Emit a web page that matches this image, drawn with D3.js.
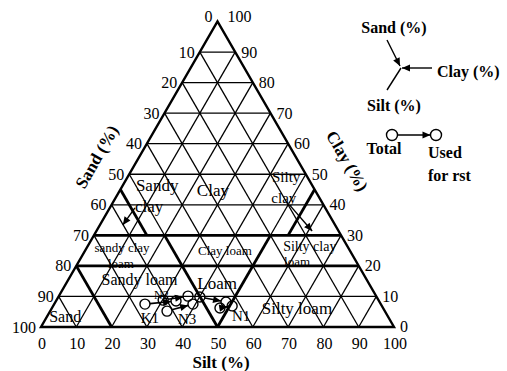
<!DOCTYPE html>
<html>
<head>
<meta charset="utf-8">
<script src="https://cdn.jsdelivr.net/npm/d3@7"></script>
<style>
  body { margin: 0; background: #fff; }
  text { font-family: "Liberation Serif", "Times New Roman", serif; fill: #000; }
</style>
</head>
<body>
<svg id="chart" width="507" height="371"></svg>
<script>
// ---- data ----
const tickValues = [0, 10, 20, 30, 40, 50, 60, 70, 80, 90, 100];
const gridSteps = [10, 20, 30, 40, 50, 60, 70, 80, 90];

// texture class boundaries, each [silt1, clay1, silt2, clay2] in %
const classBoundaries = [
  [0, 20, 80, 20],
  [0, 30, 70, 30],
  [0, 20, 20, 0],
  [20, 30, 50, 0],
  [50, 30, 50, 0],
  [0, 45, 15, 30],
  [55, 45, 55, 30]
];

// class names and where they sit (silt %, clay %)
const classNames = ["Sandy", "clay", "Clay", "Silty", "clay", "sandy clay", "loam",
                    "Clay loam", "Silty clay", "loam", "Sandy loam", "Loam", "Silty loam", "Sand"];
const classSilt = [9.8, 11.0, 26.3, 44.9, 47.7, 10.0, 12.2, 39.5, 62.9, 61.9, 20.1, 42.7, 69.4, 5.2];
const classClay = [46.2, 39.3, 44.8, 49.1, 42.2, 25.9, 20.9, 25.2, 26.5, 21.3, 15.6, 14.4, 6.2, 3.3];
const classSize = [17, 17, 17, 15, 15, 13, 13, 13, 14, 13, 16, 17, 17, 16];

// pointers from the small-triangle class names into their regions [silt1, clay1, silt2, clay2]
const classPointers = [
  [7.1, 39.0, 6.5, 33.4],
  [50.5, 39.9, 61.1, 31.4]
];

// samples: total fraction -> fraction used (silt %, clay %)
const sampleIds    = ["K1", "N2", "N3", "N1", "N1b"];
const totalSilt    = [25.7, 30.2, 33.1, 40.1, 47.6];
const totalClay    = [7.5, 8.8, 5.2, 9.8, 6.2];
const usedSilt     = [34.0, 36.6, 39.3, 48.3, 50.7];
const usedClay     = [8.5, 10.1, 7.5, 8.2, 6.9];

const sampleLabels = ["K1", "N2", "N3", "N1"];
const labelSilt    = [29.4, 28.8, 40.1, 54.9];
const labelClay    = [2.9, 10.6, 2.6, 3.6];
const labelSize    = [15, 12, 15, 15];

// ---- layout ----
const svg = d3.select("#chart");
const x = d3.scaleLinear().domain([0, 100]).range([41, 394]);   // silt + clay/2
const y = d3.scaleLinear().domain([0, 100]).range([327, 21.5]); // clay
const px = (silt, clay) => x(silt + clay / 2);
const py = (clay) => y(clay);

const defs = svg.append("defs");
defs.append("marker")
  .attr("id", "head").attr("viewBox", "0 -5 10 10")
  .attr("refX", 10).attr("refY", 0)
  .attr("markerWidth", 9).attr("markerHeight", 8)
  .attr("markerUnits", "userSpaceOnUse")
  .attr("orient", "auto")
  .append("path").attr("d", "M0,-4.5L10,0L0,4.5Z").attr("fill", "#000");

const line = (g, s1, c1, s2, c2, w) => g.append("line")
  .attr("x1", px(s1, c1)).attr("y1", py(c1))
  .attr("x2", px(s2, c2)).attr("y2", py(c2))
  .attr("stroke", "#000").attr("stroke-width", w);

// grid: constant clay, constant silt, constant sand
const grid = svg.append("g");
gridSteps.forEach(k => {
  line(grid, 0, k, 100 - k, k, 1.3);
  line(grid, k, 0, k, 100 - k, 1.3);
  line(grid, 100 - k, 0, 0, 100 - k, 1.3);
});

// class boundaries
const bnd = svg.append("g");
classBoundaries.forEach(b => line(bnd, b[0], b[1], b[2], b[3], 2.8));

// outer triangle
svg.append("path")
  .attr("d", d3.line()([[px(0, 0), py(0)], [px(100, 0), py(0)], [px(0, 100), py(100)]]) + "Z")
  .attr("fill", "none").attr("stroke", "#000").attr("stroke-width", 2.4)
  .attr("stroke-linejoin", "miter");

// tick labels
const tk = svg.append("g").style("font-size", "16px");
tickValues.forEach(t => {
  // silt along the base
  tk.append("text").attr("x", px(t, 0) + 1).attr("y", py(0) + 16)
    .attr("text-anchor", "middle").attr("dominant-baseline", "central").text(t);
  // sand along the left edge
  const cl = 100 - t;
  tk.append("text").attr("x", px(0, cl) - 5).attr("y", py(cl) - (cl === 100 ? 5 : 0))
    .attr("text-anchor", "end").attr("dominant-baseline", "central").text(t);
  // clay along the right edge
  tk.append("text").attr("x", px(100 - t, t) + (t === 100 ? 10 : 6)).attr("y", py(t) - (t === 100 ? 5 : t === 0 ? 1 : 0))
    .attr("text-anchor", "start").attr("dominant-baseline", "central").text(t);
});

// axis titles
svg.append("text").attr("transform", "translate(97,157) rotate(-60)")
  .attr("text-anchor", "middle").attr("dominant-baseline", "central")
  .style("font-size", "17px").style("font-weight", "bold").text("Sand (%)");
svg.append("text").attr("transform", "translate(347,161) rotate(60)")
  .attr("text-anchor", "middle").attr("dominant-baseline", "central")
  .style("font-size", "17px").style("font-weight", "bold").text("Clay (%)");
svg.append("text").attr("x", 221).attr("y", 362)
  .attr("text-anchor", "middle").attr("dominant-baseline", "central")
  .style("font-size", "17px").style("font-weight", "bold").text("Silt (%)");

// class names
const cls = svg.append("g");
classNames.forEach((n, i) => {
  cls.append("text").attr("x", px(classSilt[i], classClay[i])).attr("y", py(classClay[i]))
    .attr("text-anchor", "middle").attr("dominant-baseline", "central")
    .style("font-size", classSize[i] + "px").text(n);
});
classPointers.forEach(p => line(cls, p[0], p[1], p[2], p[3], 1.4).attr("marker-end", "url(#head)"));

// samples
const smp = svg.append("g");
const r = 5;
sampleIds.forEach((id, i) => {
  const x1 = px(totalSilt[i], totalClay[i]), y1 = py(totalClay[i]);
  const x2 = px(usedSilt[i], usedClay[i]), y2 = py(usedClay[i]);
  const d = Math.hypot(x2 - x1, y2 - y1);
  const ux = (x2 - x1) / d, uy = (y2 - y1) / d;
  smp.append("line")
    .attr("x1", x1 + ux * r).attr("y1", y1 + uy * r)
    .attr("x2", x2 - ux * r).attr("y2", y2 - uy * r)
    .attr("stroke", "#000").attr("stroke-width", 1.6).attr("marker-end", "url(#head)");
  [[x1, y1], [x2, y2]].forEach(c => smp.append("circle")
    .attr("cx", c[0]).attr("cy", c[1]).attr("r", r)
    .attr("fill", "none").attr("stroke", "#000").attr("stroke-width", 1.4));
});
sampleLabels.forEach((n, i) => {
  smp.append("text").attr("x", px(labelSilt[i], labelClay[i])).attr("y", py(labelClay[i]))
    .attr("text-anchor", "middle").attr("dominant-baseline", "central")
    .style("font-size", labelSize[i] + "px").text(n);
});

// legend: reading directions
const lg = svg.append("g");
const cx = 401, cy = 68;
lg.append("line").attr("x1", 387).attr("y1", 40).attr("x2", cx - 1).attr("y2", cy - 2)
  .attr("stroke", "#000").attr("stroke-width", 1.4).attr("marker-end", "url(#head)");
lg.append("line").attr("x1", 432).attr("y1", cy).attr("x2", cx + 1).attr("y2", cy)
  .attr("stroke", "#000").attr("stroke-width", 1.4).attr("marker-end", "url(#head)");
lg.append("line").attr("x1", cx).attr("y1", cy).attr("x2", 387).attr("y2", 90)
  .attr("stroke", "#000").attr("stroke-width", 1.4);
lg.append("text").attr("x", 394).attr("y", 27).attr("text-anchor", "middle")
  .attr("dominant-baseline", "central").style("font-size", "16px").style("font-weight", "bold").text("Sand (%)");
lg.append("text").attr("x", 437).attr("y", 71).attr("text-anchor", "start")
  .attr("dominant-baseline", "central").style("font-size", "16px").style("font-weight", "bold").text("Clay (%)");
lg.append("text").attr("x", 394).attr("y", 105).attr("text-anchor", "middle")
  .attr("dominant-baseline", "central").style("font-size", "16px").style("font-weight", "bold").text("Silt (%)");

// legend: total -> used
lg.append("circle").attr("cx", 392).attr("cy", 135).attr("r", 5.5)
  .attr("fill", "#fff").attr("stroke", "#000").attr("stroke-width", 1.4);
lg.append("circle").attr("cx", 436).attr("cy", 135).attr("r", 5.5)
  .attr("fill", "#fff").attr("stroke", "#000").attr("stroke-width", 1.4);
lg.append("line").attr("x1", 397.5).attr("y1", 135).attr("x2", 430.5).attr("y2", 135)
  .attr("stroke", "#000").attr("stroke-width", 1.4).attr("marker-end", "url(#head)");
lg.append("text").attr("x", 384).attr("y", 148).attr("text-anchor", "middle")
  .attr("dominant-baseline", "central").style("font-size", "16px").style("font-weight", "bold").text("Total");
lg.append("text").attr("x", 428).attr("y", 152).attr("text-anchor", "start")
  .attr("dominant-baseline", "central").style("font-size", "16px").style("font-weight", "bold").text("Used");
lg.append("text").attr("x", 428).attr("y", 175).attr("text-anchor", "start")
  .attr("dominant-baseline", "central").style("font-size", "16px").style("font-weight", "bold").text("for rst");
</script>
</body>
</html>
